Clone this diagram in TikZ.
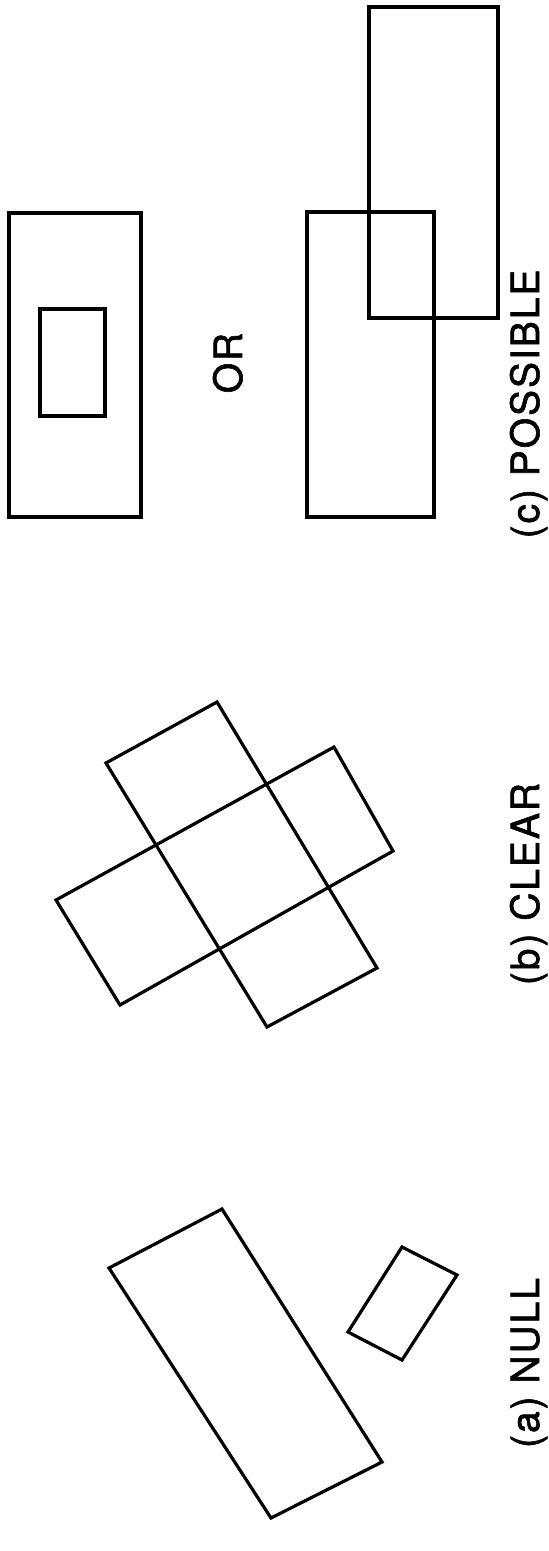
\documentclass[tikz,border=0pt]{standalone}
\usepackage{fontspec}
\newfontfamily\lblfont[LetterSpace=5,FakeBold=1.5]{TeX Gyre Heros}

\begin{document}
\begin{tikzpicture}[x=1pt,y=-1pt,
  box/.style={line width=3.2pt},
  lbl/.style={font=\lblfont\fontsize{39}{40}\selectfont, rotate=90, anchor=base, inner sep=0pt}]
\useasboundingbox (0,0) rectangle (549,1551);
% (c) possible
\draw[box] (9,213) rectangle (141,517);
\draw[box] (40,309) rectangle (105,416);
\node[lbl] (or) at (242,363) {OR};
\draw[box] (307,212) rectangle (434,517);
\draw[box] (369,7) rectangle (498,318);
\node[lbl] (labc) at (539,404) {(c) POSSIBLE};
% (b) clear
\draw[box] (106,763) -- (217,702) -- (377,968) -- (267,1027) -- cycle;
\draw[box] (56,900) -- (334,747) -- (393,851) -- (120,1005) -- cycle;
\node[lbl] (labb) at (539,884) {(b) CLEAR};
% (a) null
\draw[box] (109,1268) -- (222,1209) -- (382,1462) -- (271,1518) -- cycle;
\draw[box] (402,1247) -- (457,1275) -- (402,1360) -- (348,1332) -- cycle;
\node[lbl] (laba) at (539,1363) {(a) NULL};
\end{tikzpicture}
\end{document}
